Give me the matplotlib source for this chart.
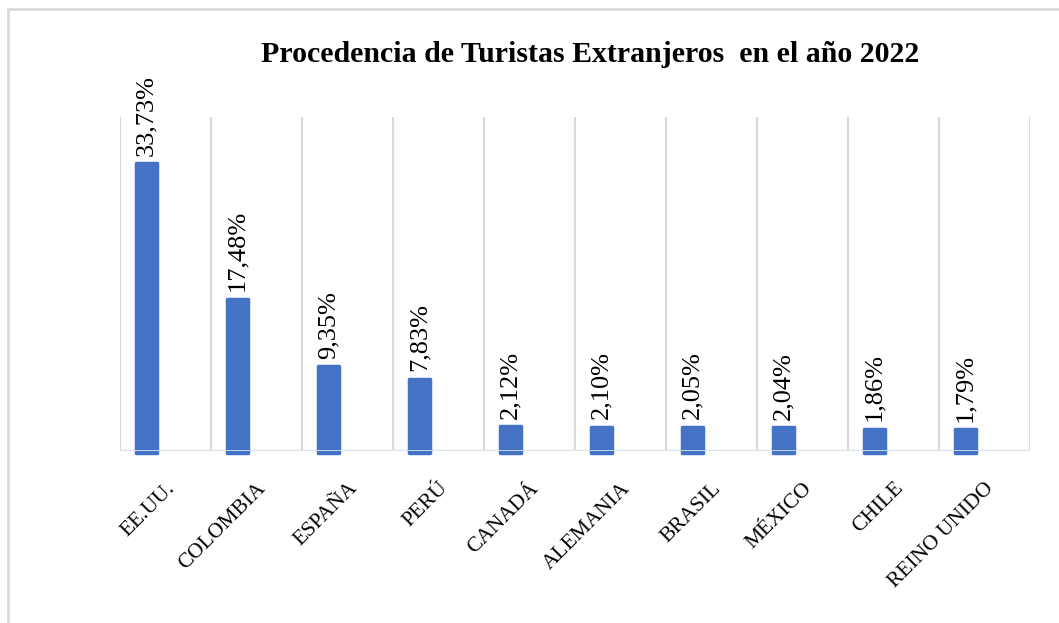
import numpy as np
import matplotlib.pyplot as plt
from matplotlib.lines import Line2D

# Data
paises = ["EE.UU.", "COLOMBIA", "ESPAÑA", "PERÚ", "CANADÁ",
          "ALEMANIA", "BRASIL", "MÉXICO", "CHILE", "REINO UNIDO"]
porcentajes = [33.73, 17.48, 9.35, 7.83, 2.12, 2.10, 2.05, 2.04, 1.86, 1.79]
etiquetas = ["33,73%", "17,48%", "9,35%", "7,83%", "2,12%",
             "2,10%", "2,05%", "2,04%", "1,86%", "1,79%"]

plt.rcParams['font.family'] = ['Liberation Serif', 'DejaVu Serif']

BLUE = "#4472C4"
GRID = "#d9d9d9"

fig = plt.figure(figsize=(10.59, 6.23), dpi=100)
ax = fig.add_axes([120/1059, 1-451/623, 910/1059, 334/623])

x = np.arange(len(paises))
xb = x - 0.21   # bars sit left of the category centre
base = -1.05    # bars run slightly below the axis line
ax.bar(xb, np.array(porcentajes) - base, bottom=base, width=0.23,
       color=BLUE, edgecolor=BLUE, linewidth=2.5, joinstyle='round',
       zorder=3, clip_on=False)
ax.set_xlim(-0.5, len(paises) - 0.5)
ax.set_ylim(-0.84, 39.3)

# vertical gridlines at category boundaries
for b in np.arange(-0.5, len(paises), 1.0):
    ax.axvline(b, color=GRID, lw=1.5, zorder=1)
ax.axhline(-0.84, color=GRID, lw=2.5, zorder=2)
ax.axhline(-0.84, color="#dce6f5", lw=1.2, zorder=4)

for xi, v, t in zip(xb, porcentajes, etiquetas):
    ax.text(xi, v + 0.9, t, rotation=90, ha='center', va='bottom',
            fontsize=19, color='black')

ax.set_xticks(x)
ax.set_xticklabels(paises, rotation=45, ha='right', rotation_mode='anchor',
                   fontsize=15.5)
ax.tick_params(axis='x', length=0, pad=20)
ax.set_yticks([])
for s in ax.spines.values():
    s.set_visible(False)

fig.text(590/1059, 1-55/623, "Procedencia de Turistas Extranjeros  en el año 2022",
         ha='center', va='center', fontsize=21.5, fontweight='bold')

# chart border (left and top visible)
fig.add_artist(Line2D([8/1059, 8/1059], [0, 1-9/623], color=GRID, lw=2,
                      transform=fig.transFigure))
fig.add_artist(Line2D([8/1059, 1], [1-9/623, 1-9/623], color=GRID, lw=2,
                      transform=fig.transFigure))

fig.savefig("out.png", dpi=100)
